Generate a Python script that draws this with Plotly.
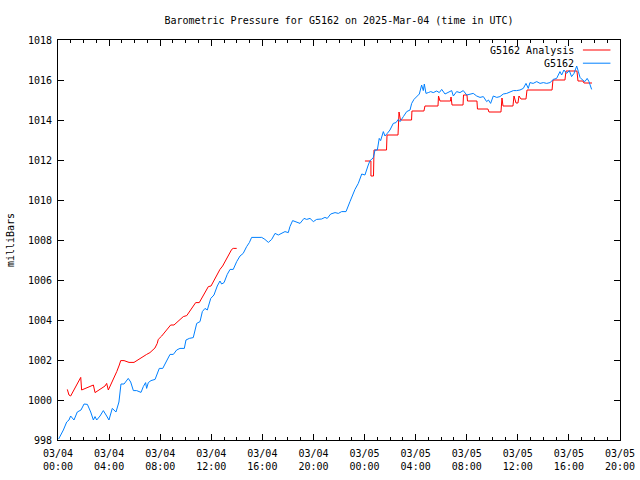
import plotly.graph_objects as go
import pandas as pd

# ---- data (hours after 2025-03-04 00:00 UTC, pressure in mb) ----
obs_hours = [0.05, 0.42, 0.68, 0.86, 0.99, 1.25, 1.51, 1.8, 2.04, 2.3, 2.56, 2.77, 2.9, 3.03, 3.29, 3.55, 3.81, 3.99,
             4.25, 4.54, 4.77, 4.93, 5.17, 5.5, 5.69, 5.9, 6.16, 6.5, 6.68, 6.86, 6.94, 7.07, 7.28, 7.54, 7.6,
             7.93, 8.2, 8.46, 8.77, 9.03, 9.29, 9.55, 9.89, 10.02, 10.28, 10.59, 10.86, 11.12, 11.3, 11.51, 11.69,
             11.96, 12.21, 12.47, 12.68, 12.81, 13.0, 13.25, 13.47, 13.72, 13.99, 14.25, 14.5, 14.77, 14.98,
             15.16, 15.95, 16.2, 16.47, 16.73, 16.99, 17.25, 17.51, 17.77, 18.03, 18.16, 18.37, 18.63, 18.95,
             19.26, 19.47, 19.73, 19.99, 20.25, 20.64, 20.9, 21.08, 21.35, 21.69, 21.95, 22.21, 22.55, 22.73,
             22.86, 23.25, 23.51, 23.78, 24.03, 24.29, 24.43, 24.56, 24.69, 24.82, 25.0, 25.15, 25.26, 25.47,
             25.6, 25.78, 25.99, 26.25, 26.46, 26.64, 26.78, 27.04, 27.3, 27.56, 27.69, 27.87, 28.08, 28.29,
             28.47, 28.6, 28.68, 28.81, 28.99, 29.18, 29.38, 29.5, 29.65, 29.85, 30.04, 30.3, 30.56, 30.82,
             30.95, 31.21, 31.47, 31.73, 32.0, 32.25, 32.51, 32.78, 33.04, 33.3, 33.56, 33.7, 33.87, 34.08,
             34.35, 34.6, 34.86, 35.13, 35.39, 35.65, 35.9, 36.17, 36.43, 36.64, 36.82, 36.95, 37.2, 37.48,
             37.74, 38.0, 38.26, 38.52, 38.78, 39.04, 39.3, 39.43, 39.61, 39.82, 40.03, 40.21, 40.4, 40.61,
             40.74, 40.87, 41.07, 41.25, 41.43, 41.57, 41.78]
obs_mb = [998.05, 998.5, 998.9, 999.0, 999.2, 999.0, 999.4, 999.5, 999.8, 999.78, 999.4, 999.0, 999.17, 999.0,
          999.2, 999.47, 999.2, 999.0, 999.58, 999.4, 999.9, 1000.8, 1000.8, 1001.08, 1000.9, 1000.47, 1000.47,
          1000.38, 1000.67, 1000.87, 1000.58, 1000.87, 1000.97, 1001.0, 1001.03,
          1001.58, 1001.58, 1001.9, 1002.28, 1002.28, 1002.5, 1002.58, 1002.58, 1003.0, 1003.08, 1003.12,
          1003.83, 1003.92, 1004.42, 1004.58, 1004.5, 1005.08, 1005.25, 1005.7, 1005.95, 1005.8, 1005.87,
          1006.28, 1006.53, 1006.53, 1006.92, 1007.2, 1007.33, 1007.67, 1007.87,
          1008.13, 1008.13, 1008.03, 1007.88, 1008.03, 1008.33, 1008.25, 1008.33, 1008.42, 1008.37, 1008.67,
          1008.97, 1008.92, 1008.83, 1009.08, 1009.03, 1009.08, 1008.92, 1009.03, 1009.05, 1009.13, 1009.08,
          1009.3, 1009.37, 1009.33, 1009.42, 1009.42, 1009.67, 1009.92, 1010.53, 1010.83, 1011.3, 1011.25,
          1011.75, 1011.97, 1012.03, 1012.13, 1012.5, 1012.5, 1013.08, 1012.97, 1013.42, 1013.2, 1013.33,
          1013.5, 1013.83, 1013.87, 1014.03, 1013.92, 1014.17, 1014.42, 1014.5, 1014.83, 1015.03, 1015.17,
          1015.3, 1015.75, 1015.47, 1015.8, 1015.33, 1015.37, 1015.42, 1015.37, 1015.42, 1015.45, 1015.37,
          1015.53, 1015.3, 1015.37, 1015.47, 1015.2, 1015.42, 1015.37, 1015.47, 1015.25, 1015.3, 1015.33,
          1015.2, 1015.13, 1015.17, 1014.92, 1015.0, 1014.83, 1015.2, 1015.13, 1015.17, 1015.3, 1015.33,
          1015.42, 1015.47, 1015.47, 1015.5, 1015.58, 1015.83, 1015.58, 1015.87, 1015.83, 1015.92, 1015.83,
          1015.87, 1015.83, 1015.87, 1016.03, 1016.08, 1016.42, 1016.25, 1016.5, 1016.33, 1016.47, 1016.17,
          1016.33, 1016.7, 1016.42, 1016.13, 1016.0, 1015.92, 1016.08, 1015.92, 1015.53]

ana_hours = [0.73, 0.86, 0.99, 1.25, 1.51, 1.78, 1.85, 2.11, 2.38, 2.64, 2.77, 2.9, 3.16, 3.42, 3.68, 3.81, 3.94,
             4.12, 4.33, 4.6, 4.8, 4.91, 5.17, 5.56, 5.95, 6.16, 6.42, 6.68, 6.94, 7.2, 7.46, 7.59, 7.77, 7.85,
             8.12, 8.38, 8.64, 8.82, 9.08, 9.29, 9.55, 9.81, 10.08, 10.33, 10.59, 10.78, 11.06, 11.33, 11.59,
             11.77, 11.98, 12.21, 12.42, 12.68, 12.89, 13.15, 13.39, 13.6, 13.72, 13.99,
             None,
             24.03, 24.5, 24.5, 24.7, 24.74, 25.72, 25.76, 26.62, 26.7, 26.81, 27.68, 27.71, 28.65, 28.73,
             29.75, 29.79, 29.91, 30.73, 30.77, 30.85, 31.71, 31.75, 32.02, 32.06, 32.8, 32.84, 33.66, 33.74,
             34.68, 34.76, 34.84, 35.62, 35.7, 35.86, 36.01, 36.09, 36.25, 36.64, 36.72, 38.68, 38.75, 39.69,
             39.77, 40.63, 40.71, 41.1, 41.18, 41.81]
ana_mb = [1000.53, 1000.25, 1000.2, 1000.5, 1000.83, 1001.13, 1000.5, 1000.58, 1000.63, 1000.72, 1000.75,
          1000.37, 1000.47, 1000.58, 1000.7, 1000.83, 1000.5, 1000.75, 1001.03, 1001.42, 1001.75, 1001.97,
          1001.97, 1001.88, 1001.88, 1001.97, 1002.08, 1002.17, 1002.28, 1002.37, 1002.5, 1002.6, 1002.83,
          1003.03, 1003.2, 1003.42, 1003.63, 1003.75, 1003.75, 1003.87, 1004.03, 1004.17, 1004.22, 1004.45,
          1004.7, 1004.87, 1004.87, 1005.17, 1005.45, 1005.67, 1005.7, 1006.0, 1006.25, 1006.53, 1006.7,
          1007.0, 1007.3, 1007.53, 1007.58, 1007.58,
          None,
          1011.95, 1011.95, 1011.2, 1011.2, 1012.5, 1012.5, 1013.25, 1013.25, 1014.4, 1014.0, 1014.0, 1014.45,
          1014.45, 1014.7, 1014.7, 1015.2, 1014.95, 1014.95, 1015.15, 1014.75, 1014.75, 1015.25, 1015.25,
          1014.95, 1014.95, 1014.55, 1014.55, 1014.4, 1014.4, 1015.1, 1014.7, 1014.7, 1015.2, 1014.85, 1014.85,
          1015.2, 1015.05, 1015.05, 1015.5, 1015.5, 1016.0, 1016.0, 1016.45, 1016.45, 1015.95, 1015.95,
          1015.85, 1015.85]

series_names = ["G5162 Analysis", "G5162"]
series_colors = ["#ff0000", "#0080ff"]

start = pd.Timestamp("2025-03-04 00:00")


def to_time(hours):
    return [None if h is None else start + pd.Timedelta(hours=h) for h in hours]


FONT = "DejaVu Sans Mono"

fig = go.Figure()
fig.add_trace(go.Scatter(x=to_time(ana_hours), y=ana_mb, mode="lines", name=series_names[0],
                         line=dict(color=series_colors[0], width=1), connectgaps=False))
fig.add_trace(go.Scatter(x=to_time(obs_hours), y=obs_mb, mode="lines", name=series_names[1],
                         line=dict(color=series_colors[1], width=1)))

fig.update_layout(
    width=640, height=480,
    margin=dict(l=58, r=20, t=40, b=40, autoexpand=False),
    paper_bgcolor="white", plot_bgcolor="white",
    showlegend=False,
    font=dict(family=FONT, size=10, color="black"),
    title=dict(text="Barometric Pressure for G5162 on 2025-Mar-04 (time in UTC)",
               x=0.5, xref="paper", y=0.958, yref="container", xanchor="center", yanchor="middle",
               font=dict(family=FONT, size=10, color="black")),
)

fig.update_xaxes(
    automargin=False,
    range=[start, start + pd.Timedelta(hours=44)],
    tickmode="linear", tick0=start, dtick=4 * 3600 * 1000,
    tickformat="%m/%d<br>%H:%M",
    ticks="inside", ticklen=6, tickcolor="black", tickwidth=1,
    minor=dict(ticks="inside", dtick=3600 * 1000, ticklen=3, tickcolor="black", showgrid=False),
    showline=True, linecolor="black", linewidth=1, mirror="ticks",
    showgrid=False, zeroline=False,
    tickfont=dict(family=FONT, size=10, color="black"),
    ticklabelstandoff=4,
)
fig.update_yaxes(
    automargin=False,
    range=[998, 1018], tickmode="linear", tick0=998, dtick=2,
    ticks="inside", ticklen=6, tickcolor="black", tickwidth=1,
    showline=True, linecolor="black", linewidth=1, mirror="ticks",
    showgrid=False, zeroline=False,
    tickfont=dict(family=FONT, size=10, color="black"),
    ticklabelstandoff=3,
    title=dict(text="milliBars", font=dict(family=FONT, size=10, color="black"), standoff=11),
)

# gnuplot-style legend: text right-aligned, line sample on the right
legend_y = [0.975, 0.942]
for name, color, yy in zip(series_names, series_colors, legend_y):
    fig.add_annotation(text=name, xref="paper", yref="paper", x=0.922, y=yy,
                       xanchor="right", yanchor="middle", showarrow=False,
                       font=dict(family=FONT, size=10, color="black"))
    fig.add_shape(type="line", xref="paper", yref="paper", x0=0.934, x1=0.983, y0=yy, y1=yy,
                  line=dict(color=color, width=1))

fig.write_html("out.html",
               config={"displayModeBar": False},
               post_script="document.body.style.margin='0px';document.body.style.padding='0px';")
